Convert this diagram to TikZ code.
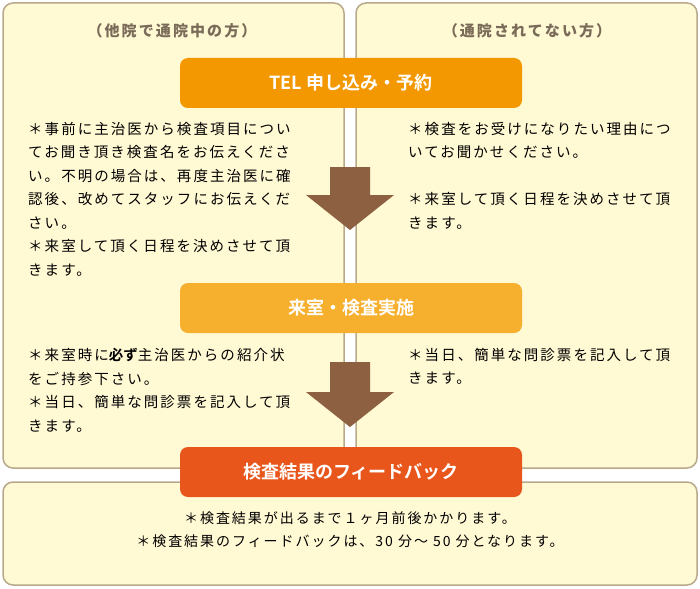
\documentclass[tikz,border=0pt]{standalone}
\usepackage{fontspec}
\setmainfont{Noto Sans CJK JP}[LetterSpace=14]
\newfontfamily\titlefont{Noto Sans CJK JP}[BoldFont={Noto Sans CJK JP Bold}]
\usetikzlibrary{positioning}
\definecolor{panelfill}{HTML}{FFF9D4}
\definecolor{panelline}{HTML}{B9A98C}
\definecolor{headgray}{HTML}{7A6A58}
\definecolor{stepA}{HTML}{F39800}
\definecolor{stepB}{HTML}{F6B02E}
\definecolor{stepC}{HTML}{E8561B}
\definecolor{arrowbrown}{HTML}{8C6040}
\tikzset{
  panel/.style={draw=panelline, line width=1.5pt, fill=panelfill, rounded corners=10pt},
  stepbox/.style={rounded corners=8pt, minimum width=342pt, minimum height=50pt,
    text=white, font=\titlefont\bfseries\fontsize{18}{20}\selectfont},
  note/.style={align=left, anchor=north west, inner sep=0pt, text=black,
    font=\fontsize{14.5}{23.5}\selectfont},
  downarrow/.style={fill=arrowbrown}
}
\newcommand{\downarrowat}[2]{% top centre, tail length
  \fill[downarrow] (#1) ++(-20,0) -- ++(40,0) -- ++(0,#2) -- ++(24,0)
    -- ++(-44,35) -- ++(-44,-35) -- ++(24,0) -- cycle;}
\begin{document}
\begin{tikzpicture}[x=1pt,y=-1pt]
  \useasboundingbox (0,0) rectangle (700,588);
  % panels
  \draw[panel] (3,3) rectangle (344,468);
  \draw[panel] (356,3) rectangle (697,468);
  \draw[panel] (3,482) rectangle (697,585);
  \node[text=headgray, font=\fontsize{15}{18}\selectfont\bfseries] (headL) at (172,31) {（他院で通院中の方）};
  \node[text=headgray, font=\fontsize{15}{18}\selectfont\bfseries] (headR) at (527,31) {（通院されてない方）};
  % arrows
  \coordinate (arrA) at (350,167);
  \coordinate (arrB) at (350,362);
  \downarrowat{arrA}{28}
  \downarrowat{arrB}{30}
  % steps
  \node[stepbox, fill=stepA] (tel) at (351,83) {TEL 申し込み・予約};
  \node[stepbox, fill=stepB] (visit) at (351,308) {来室・検査実施};
  \node[stepbox, fill=stepC] (result) at (351,472) {検査結果のフィードバック};
  % notes
  \node[note] (noteL1) at (28,122) {＊事前に主治医から検査項目につい\\てお聞き頂き検査名をお伝えくださ\\い。不明の場合は、再度主治医に確\\認後、改めてスタッフにお伝えくだ\\さい。\\＊来室して頂く日程を決めさせて頂\\きます。};
  \node[note] (noteR1) at (408,122) {＊検査をお受けになりたい理由につ\\いてお聞かせください。\\\\＊来室して頂く日程を決めさせて頂\\きます。};
  \node[note] (noteL2) at (28,348) {＊来室時に{\titlefont\bfseries 必ず}主治医からの紹介状\\をご持参下さい。\\＊当日、簡単な問診票を記入して頂\\きます。};
  \node[note] (noteR2) at (408,348) {＊当日、簡単な問診票を記入して頂\\きます。};
  \node[note, anchor=north, align=center, font=\fontsize{14}{23}\selectfont] (noteB) at (350,511)
    {＊検査結果が出るまで１ヶ月前後かかります。\\＊検査結果のフィードバックは、30 分〜 50 分となります。};
\end{tikzpicture}
\end{document}
